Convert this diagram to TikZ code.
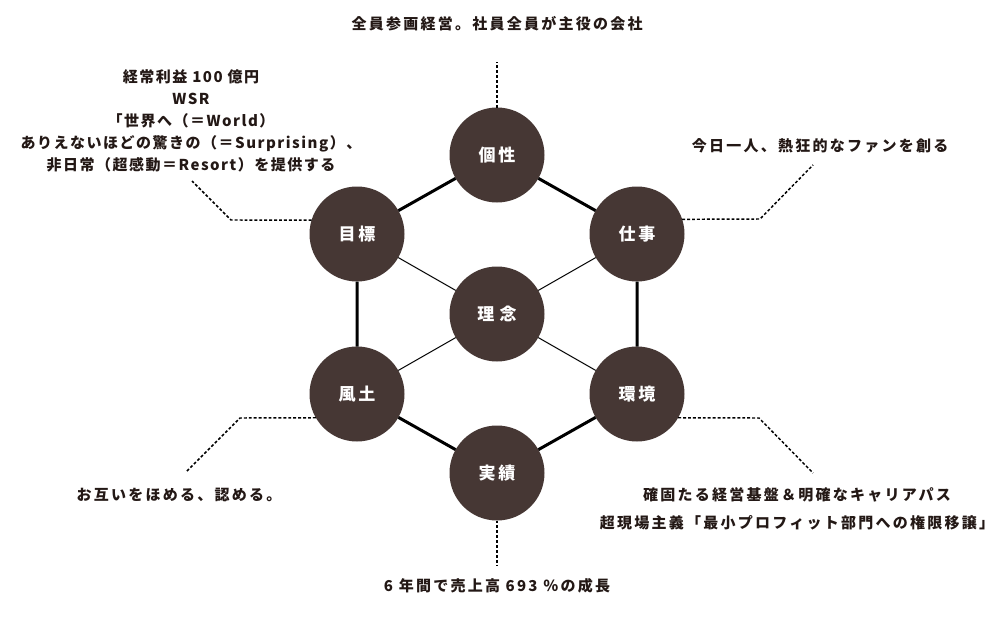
\documentclass[tikz,border=0pt]{standalone}
\usepackage{fontspec}
\setmainfont{Noto Sans CJK JP}[LetterSpace=15]
\usepackage{tikz}
\definecolor{brownfill}{HTML}{463734}
\definecolor{inkcol}{HTML}{231815}

\begin{document}
\begin{tikzpicture}[x=0.75pt,y=0.75pt,yscale=-1,xscale=1,
    circ/.style={circle,fill=brownfill,minimum size=71.25pt,inner sep=0pt,outer sep=0pt,text=white,font=\fontsize{12.75}{15}\selectfont\bfseries},
    note/.style={inner sep=0.75pt,text=inkcol,align=center,font=\fontsize{11.25}{16.5}\selectfont\bfseries},
    rim/.style={line width=2.25pt},
    spoke/.style={line width=0.75pt},
    leader/.style={line width=1.1pt,dash pattern=on 2.2pt off 1.5pt}]
        \useasboundingbox (0,0) rectangle (995,642);
        % circles
        \draw (497,155) node [circ] (kosei) {個性};
        \draw (357,234) node [circ] (mokuhyo) {目標};
        \draw (637,234) node [circ] (shigoto) {仕事};
        \draw (497,314) node [circ] (rinen) {理\hspace{4pt}念};
        \draw (357,394) node [circ] (fudo) {風土};
        \draw (637,394) node [circ] (kankyo) {環境};
        \draw (497,473) node [circ] (jisseki) {実績};
        % hexagon and spokes
        \draw [rim] (kosei) -- (mokuhyo) -- (fudo) -- (jisseki) -- (kankyo) -- (shigoto) -- (kosei);
        \foreach \n in {mokuhyo,shigoto,fudo,kankyo}
            \draw [spoke] (rinen) -- (\n);
        % leader lines
        \coordinate (koseiend) at (497,62);
        \coordinate (mokuhyobend) at (231,220);
        \coordinate (mokuhyoend) at (192,181);
        \coordinate (shigotobend) at (760,219);
        \coordinate (shigotoend) at (813,165);
        \coordinate (fudobend) at (240,418);
        \coordinate (fudoend) at (186,472);
        \coordinate (kankyobend) at (759,418);
        \coordinate (kankyoend) at (813,473);
        \coordinate (jissekiend) at (497,565);
        \draw [leader] (kosei.north) -- (koseiend);
        \draw [leader] (mokuhyo.163) -- (mokuhyobend) -- (mokuhyoend);
        \draw [leader] (shigoto.18) -- (shigotobend) -- (shigotoend);
        \draw [leader] (fudo.210) -- (fudobend) -- (fudoend);
        \draw [leader] (kankyo.330) -- (kankyobend) -- (kankyoend);
        \draw [leader] (jisseki.south) -- (jissekiend);
        % texts
        \draw (497,24) node [note] (koseitext) {全員参画経営。社員全員が主役の会社};
        \draw (191,121) node [note,font=\fontsize{11.25}{16.5}\selectfont\bfseries\addfontfeatures{LetterSpace=10}] (mokuhyotext) {経常利益 100 億円\\WSR\\「世界へ（＝World）\\ありえないほどの驚きの（＝Surprising）、\\非日常（超感動＝Resort）を提供する};
        \draw (820,146) node [note] (shigototext) {今日一人、熱狂的なファンを創る};
        \draw (179,495) node [note] (fudotext) {お互いをほめる、認める。};
        \draw (797,509) node [note,font=\fontsize{11.25}{21}\selectfont\bfseries] (kankyotext) {確固たる経営基盤＆明確なキャリアパス\\超現場主義「最小プロフィット部門への権限移譲」};
        \draw (497,586) node [note] (jissekitext) {6 年間で売上高 693 ％の成長};
    \end{tikzpicture}
\end{document}
